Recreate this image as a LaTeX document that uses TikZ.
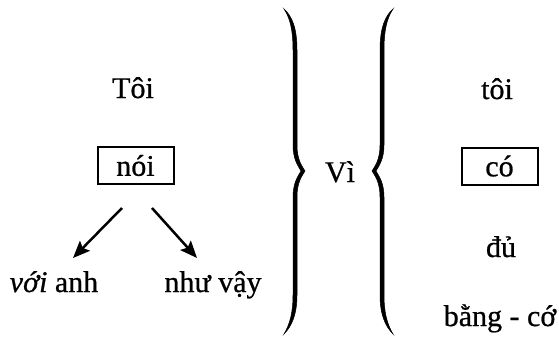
\documentclass[tikz,border=0pt]{standalone}
\usepackage{fontspec}
\setmainfont{Liberation Serif}[FakeBold=0.7]
\usetikzlibrary{arrows.meta}
\begin{document}
\begin{tikzpicture}[x=1pt,y=-1pt,
  lbl/.style={anchor=base, inner sep=0pt, font=\fontsize{30}{36}\selectfont},
  wordbox/.style={draw, line width=2pt, minimum width=76pt, minimum height=37pt, inner sep=0pt, font=\fontsize{30}{36}\selectfont},
  arr/.style={line width=2.5pt, -{Stealth[length=17pt,width=14pt,inset=3pt]}},
  bracefill/.style={fill=black, draw=black, line width=0.5pt}]
\useasboundingbox (0,0) rectangle (559,338);
% left column
\node[lbl] (toi1) at (133,98) {Tôi};
\node[wordbox] (noi) at (135.5,165.5) {nói};
\node[lbl] (voianh) at (54,292) {\textit{với} anh};
\node[lbl] (nhuvay) at (213,292) {như vậy};
\coordinate (a1s) at (122,208);
\coordinate (a1e) at (73,258);
\coordinate (a2s) at (152,208);
\coordinate (a2e) at (197,258);
\draw[arr] (a1s) -- (a1e);
\draw[arr] (a2s) -- (a2e);
% middle
\node[lbl] (vi) at (340,182) {Vì};
\path[bracefill] (284,9) .. controls (292,16) and (297,28) .. (297,50) -- (297,145)
  .. controls (297,160) and (302,166) .. (305,171)
  .. controls (302,176) and (297,182) .. (297,197) -- (297,295)
  .. controls (297,314) and (292,326) .. (284,334)
  .. controls (290,324) and (293,312) .. (293,295) -- (293,197)
  .. controls (293,183) and (298,176) .. (301,171)
  .. controls (298,166) and (293,159) .. (293,145) -- (293,50)
  .. controls (293,30) and (290,18) .. (284,9) -- cycle;
\begin{scope}[xshift=677pt, xscale=-1]
\path[bracefill] (284,9) .. controls (292,16) and (297,28) .. (297,50) -- (297,145)
  .. controls (297,160) and (302,166) .. (305,171)
  .. controls (302,176) and (297,182) .. (297,197) -- (297,295)
  .. controls (297,314) and (292,326) .. (284,334)
  .. controls (290,324) and (293,312) .. (293,295) -- (293,197)
  .. controls (293,183) and (298,176) .. (301,171)
  .. controls (298,166) and (293,159) .. (293,145) -- (293,50)
  .. controls (293,30) and (290,18) .. (284,9) -- cycle;
\end{scope}
% right column
\node[lbl] (toi2) at (497,99) {tôi};
\node[wordbox] (co) at (499.5,166) {có};
\node[lbl] (du) at (501,257) {đủ};
\node[lbl] (bangco) at (500,326) {bằng - cớ};
\end{tikzpicture}
\end{document}
